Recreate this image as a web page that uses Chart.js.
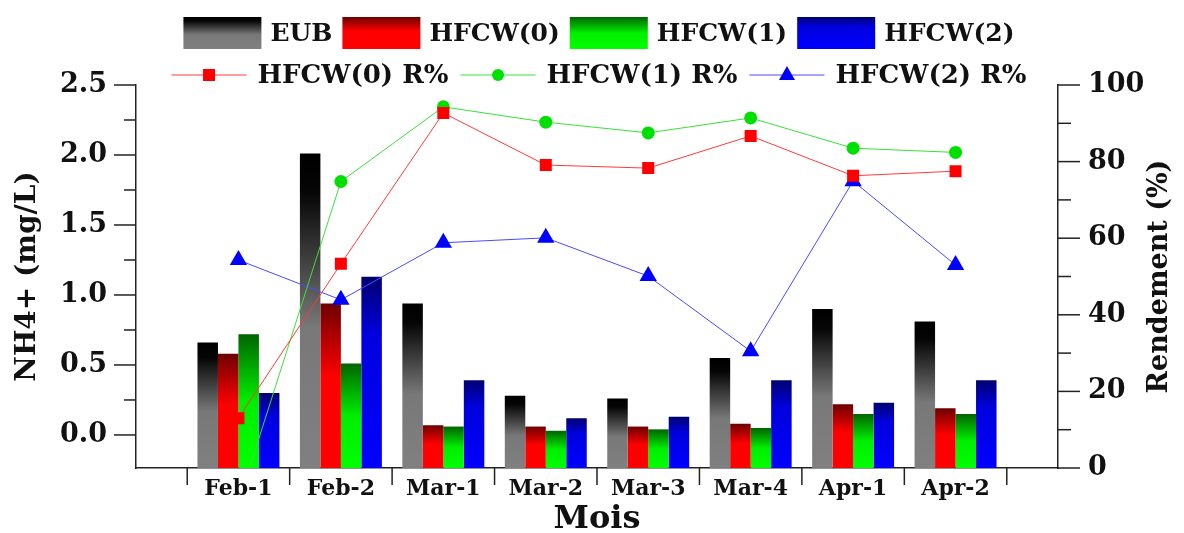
<!DOCTYPE html>
<html>
<head>
<meta charset="utf-8">
<script src="https://cdn.jsdelivr.net/npm/chart.js@4.4.0/dist/chart.umd.min.js"></script>
<style>
  html, body { margin: 0; padding: 0; background: #fff; }
  #wrap { width: 1184px; height: 533px; position: relative; }
</style>
</head>
<body>
<div id="wrap"><canvas id="c"></canvas></div>
<script>
// Sampling periods
const months = ['Feb-1', 'Feb-2', 'Mar-1', 'Mar-2', 'Mar-3', 'Mar-4', 'Apr-1', 'Apr-2'];

// NH4+ concentrations (mg/L)
const eub   = [0.66, 2.01, 0.94, 0.28, 0.26, 0.55, 0.90, 0.81];
const hfcw0 = [0.58, 0.94, 0.07, 0.06, 0.06, 0.08, 0.22, 0.19];
const hfcw1 = [0.72, 0.51, 0.06, 0.03, 0.04, 0.05, 0.15, 0.15];
const hfcw2 = [0.30, 1.13, 0.39, 0.12, 0.13, 0.39, 0.23, 0.39];

// Removal efficiency (%)
const r0 = [13.0, 53.3, 92.7, 79.1, 78.3, 86.7, 76.3, 77.5];
const r1 = [-9.0, 74.8, 94.3, 90.3, 87.5, 91.4, 83.5, 82.4];
const r2 = [54.3, 43.9, 58.8, 60.1, 50.1, 30.5, 74.9, 53.0];

// Axis ticks
const nh4Ticks = [0, 0.5, 1.0, 1.5, 2.0, 2.5];
const rTicks = [0, 20, 40, 60, 80, 100];
const NH4_MIN = -0.236;

const FONT = '"DejaVu Serif"';
const INK = '#111';
const AXIS = '#222';

// vertical colour ramps for the bars (top -> bottom)
const RAMP_EUB  = [[0, '#000000'], [0.12, '#050505'], [0.55, '#787878'], [1, '#808080']];
const RAMP_H0   = [[0, '#6e0000'], [0.45, '#ff0000'], [1, '#ff0000']];
const RAMP_H1   = [[0, '#006400'], [0.5, '#00ee00'], [1, '#00ff00']];
const RAMP_H2   = [[0, '#000070'], [0.3, '#0000dd'], [1, '#0000ff']];

const pad = a => [null, ...a, null];

function ramp(ctx2d, top, bottom, stops) {
  const g = ctx2d.createLinearGradient(0, top, 0, bottom);
  stops.forEach(([o, c]) => g.addColorStop(o, c));
  return g;
}

function barFill(stops) {
  return (c) => {
    const chart = c.chart;
    const ys = chart.scales && chart.scales.y;
    if (c.type !== 'data' || !ys || c.raw == null) return stops[stops.length - 1][1];
    const top = ys.getPixelForValue(c.raw);
    const bottom = ys.getPixelForValue(NH4_MIN);
    return ramp(chart.ctx, top, bottom, stops);
  };
}

function barSet(label, values, stops) {
  return {
    type: 'bar', label, data: pad(values), yAxisID: 'y', base: NH4_MIN,
    backgroundColor: barFill(stops), borderWidth: 0,
    categoryPercentage: 0.8, barPercentage: 1.0, order: 2, ramp: stops
  };
}

function lineSet(label, values, color, lineColor, style, radius) {
  return {
    type: 'line', label, data: pad(values), yAxisID: 'y1',
    borderColor: lineColor, borderWidth: 1, tension: 0, fill: false,
    pointStyle: style, pointRadius: radius, pointBackgroundColor: color,
    pointBorderWidth: 0, order: 1, markColor: color
  };
}

// tick marks (major + minor) on both value axes and category separators
const tickMarks = {
  id: 'tickMarks',
  afterDraw(chart) {
    const { ctx, chartArea: a, scales } = chart;
    const y = scales.y, y1 = scales.y1, x = scales.x;
    ctx.save();
    ctx.strokeStyle = AXIS;
    ctx.lineWidth = 1.5;
    const seg = (x0, y0, x1, y1_) => { ctx.beginPath(); ctx.moveTo(x0, y0); ctx.lineTo(x1, y1_); ctx.stroke(); };
    nh4Ticks.forEach((v, i) => {
      const p = y.getPixelForValue(v);
      seg(a.left - 22, p, a.left, p);
      if (i < nh4Ticks.length - 1) {
        const m = y.getPixelForValue((v + nh4Ticks[i + 1]) / 2);
        seg(a.left - 12, m, a.left, m);
      }
    });
    rTicks.forEach((v, i) => {
      const p = y1.getPixelForValue(v);
      seg(a.right, p, a.right + 22, p);
      if (i < rTicks.length - 1) {
        const m = y1.getPixelForValue((v + rTicks[i + 1]) / 2);
        seg(a.right, m, a.right + 13, m);
      }
    });
    const n = x.getLabels().length;
    for (let i = 1; i < n; i++) {
      const p = (x.getPixelForValue(i - 1) + x.getPixelForValue(i)) / 2;
      seg(p, a.bottom, p, a.bottom + 17);
    }
    // right-hand axis title, reading bottom to top
    ctx.fillStyle = INK;
    ctx.font = 'bold 27px ' + FONT;
    ctx.textAlign = 'center';
    ctx.textBaseline = 'middle';
    ctx.translate(1160, (a.top + a.bottom) / 2);
    ctx.rotate(-Math.PI / 2);
    ctx.fillText('Rendement (%)', 0, 0);
    ctx.restore();
  }
};

// two-row legend: gradient boxes for bars, line + marker for rates
const legendRows = {
  id: 'legendRows',
  afterDraw(chart) {
    const ctx = chart.ctx;
    const ds = chart.data.datasets;
    const bars = ds.filter(d => d.type === 'bar');
    const lines = ds.filter(d => d.type === 'line');
    const cx = 599;
    ctx.save();
    ctx.textBaseline = 'middle';
    ctx.textAlign = 'left';
    ctx.fillStyle = INK;

    // row 1
    ctx.font = 'bold 25px ' + FONT;
    const boxW = 78, boxH = 32, gIn = 9, gOut = 10, yc1 = 33;
    let total = 0;
    bars.forEach((d, i) => { total += (i ? gOut : 0) + boxW + gIn + ctx.measureText(d.label).width; });
    let x = cx - total / 2;
    bars.forEach((d) => {
      const top = yc1 - boxH / 2;
      ctx.fillStyle = ramp(ctx, top, top + boxH, d.ramp);
      ctx.fillRect(x, top, boxW, boxH);
      x += boxW + gIn;
      ctx.fillStyle = INK;
      ctx.fillText(d.label, x, yc1 + 1);
      x += ctx.measureText(d.label).width + gOut;
    });

    // row 2
    ctx.font = 'bold 26px ' + FONT;
    const segW = 75, tIn = 11, tOut = 12, yc2 = 75;
    total = 0;
    lines.forEach((d, i) => { total += (i ? tOut : 0) + segW + tIn + ctx.measureText(d.label).width; });
    x = cx - total / 2;
    lines.forEach((d) => {
      ctx.strokeStyle = d.borderColor;
      ctx.lineWidth = 1;
      ctx.beginPath(); ctx.moveTo(x, yc2); ctx.lineTo(x + segW, yc2); ctx.stroke();
      const mx = x + segW / 2;
      ctx.fillStyle = d.markColor;
      ctx.beginPath();
      if (d.pointStyle === 'rect') {
        ctx.rect(mx - 6, yc2 - 6, 12, 12);
      } else if (d.pointStyle === 'circle') {
        ctx.arc(mx, yc2, 6, 0, Math.PI * 2);
      } else {
        ctx.moveTo(mx, yc2 - 9); ctx.lineTo(mx + 8, yc2 + 5); ctx.lineTo(mx - 8, yc2 + 5); ctx.closePath();
      }
      ctx.fill();
      x += segW + tIn;
      ctx.fillStyle = INK;
      ctx.fillText(d.label, x, yc2 + 1);
      x += ctx.measureText(d.label).width + tOut;
    });
    ctx.restore();
  }
};

new Chart(document.getElementById('c'), {
  data: {
    labels: ['', ...months, ''],
    datasets: [
      barSet('EUB', eub, RAMP_EUB),
      barSet('HFCW(0)', hfcw0, RAMP_H0),
      barSet('HFCW(1)', hfcw1, RAMP_H1),
      barSet('HFCW(2)', hfcw2, RAMP_H2),
      lineSet('HFCW(0) R%', r0, '#ff0000', '#ff3a3a', 'rect', 8.5),
      lineSet('HFCW(1) R%', r1, '#00e000', '#3ae03a', 'circle', 6.5),
      lineSet('HFCW(2) R%', r2, '#0000ff', '#4a4aff', 'triangle', 10)
    ]
  },
  options: {
    responsive: true,
    maintainAspectRatio: false,
    animation: false,
    layout: { padding: { top: 85, left: 0, right: 0, bottom: 0 } },
    plugins: { legend: { display: false }, tooltip: { enabled: false } },
    scales: {
      x: {
        type: 'category',
        offset: false,
        grid: { drawOnChartArea: false, drawTicks: false },
        border: { display: true, color: AXIS, width: 1.5 },
        ticks: { autoSkip: false, maxRotation: 0, padding: 8, color: INK,
                 font: { family: FONT, weight: 'bold', size: 22 } },
        title: { display: true, text: 'Mois', color: INK, padding: { top: 0, bottom: -3 },
                 font: { family: FONT, weight: 'bold', size: 32, lineHeight: 1 } },
        afterFit: s => { s.height = 65; }
      },
      y: {
        position: 'left',
        min: NH4_MIN, max: 2.5,
        afterBuildTicks: s => { s.ticks = nh4Ticks.map(v => ({ value: v })); },
        grid: { drawOnChartArea: false, drawTicks: false },
        border: { display: true, color: AXIS, width: 1.5 },
        ticks: { padding: 29, color: INK, callback: v => Number(v).toFixed(1),
                 font: { family: FONT, weight: 'bold', size: 27 } },
        title: { display: true, text: 'NH4+ (mg/L)', color: INK, padding: { top: 14, bottom: 0 },
                 font: { family: FONT, weight: 'bold', size: 28, lineHeight: 1 } },
        afterFit: s => { s.width = 136; }
      },
      y1: {
        position: 'right',
        min: 0, max: 100,
        afterBuildTicks: s => { s.ticks = rTicks.map(v => ({ value: v })); },
        grid: { drawOnChartArea: false, drawTicks: false },
        border: { display: true, color: AXIS, width: 1.5 },
        ticks: { padding: 30, color: INK, font: { family: FONT, weight: 'bold', size: 27 } },
        afterFit: s => { s.width = 126; }
      }
    }
  },
  plugins: [tickMarks, legendRows]
});
</script>
</body>
</html>
